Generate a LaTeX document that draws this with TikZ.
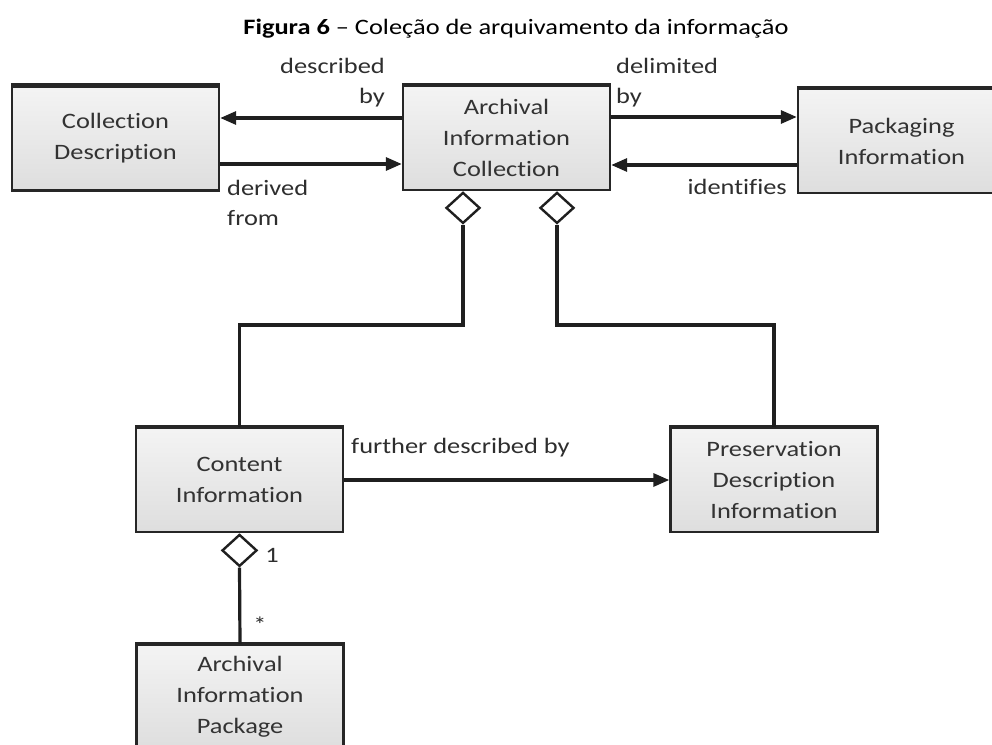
\documentclass[tikz,border=0pt]{standalone}
\usepackage{fontspec}
\setmainfont{Carlito}[FakeStretch=1.2, Ligatures={NoCommon}]
\usetikzlibrary{shapes.geometric,arrows.meta}

\begin{document}
\begin{tikzpicture}[x=1pt,y=-1pt,
  box/.style={draw=black!85, line width=2.4pt, top color=gray!9, bottom color=gray!26,
    minimum width=207pt, minimum height=104pt, inner sep=0pt, align=center,
    text=black!80, font=\fontsize{22}{31}\selectfont},
  lbl/.style={text=black!82, font=\fontsize{22}{30}\selectfont, inner sep=0pt},
  link/.style={line width=3.2pt, draw=black!88},
  arr/.style={link, -{Triangle[length=16pt,width=13pt]}},
  agg/.style={diamond, draw=black!88, line width=2.4pt, fill=white,
    minimum width=34pt, minimum height=31pt, inner sep=0pt},
]
\clip (0,0) rectangle (992,744);

% title
\node[font=\fontsize{22}{26}\selectfont] (title) at (516,29)
  {\textbf{Figura 6} – Coleção de arquivamento da informação};

% classes
\node[box] (cd)  at (115.5,138.5) {Collection\\Description};
\node[box] (aic) at (506.5,138)   {Archival\\Information\\Collection};
\node[box] (pi)  at (901.5,141)   {Packaging\\Information};
\node[box] (ci)  at (239.5,480)   {Content\\Information};
\node[box] (pdi) at (774,480)     {Preservation\\Description\\Information};
\node[box] (aip) at (240,697)     {Archival\\Information\\Package};
\foreach \n in {cd,aic,pi,ci,pdi,aip}
  \draw[line width=3.8pt, black!85] (\n.north west) -- (\n.north east);

% associations between the top row
\draw[arr] (aic.west |- 0,118) -- (cd.east |- 0,118);
\draw[arr] (cd.east |- 0,164) -- (aic.west |- 0,164);
\draw[arr] (aic.east |- 0,117) -- (pi.west |- 0,117);
\draw[arr] (pi.west |- 0,165) -- (aic.east |- 0,165);
\draw[arr] (ci.east) -- (pdi.west);

% aggregation diamonds
\node[agg, anchor=north] (d1) at (aic.south -| 463,0) {};
\node[agg, anchor=north] (d2) at (aic.south -| 557,0) {};
\node[agg, anchor=north, minimum width=35pt, minimum height=32pt] (d3) at (ci.south) {};

\coordinate (bend) at (0,325);
\draw[link] (d1.south) -- (d1.south |- bend) -| (ci.north);
\draw[link] (d2.south) -- (d2.south |- bend) -| (pdi.north);
\draw[link] (d3.south) -- (aip.north);

% labels
\node[lbl, align=right, anchor=east] (ldesc) at (385,83) {described\\by};
\node[lbl, align=left, anchor=west] (ldelim) at (616,83) {delimited\\by};
\node[lbl, align=left, anchor=west] (lderiv) at (227,203) {derived\\from};
\node[lbl, anchor=east] (lident) at (787,187) {identifies};
\node[lbl, anchor=west] (lfurther) at (351,448) {further described by};
\node[lbl] (lone) at (272,555) {1};
\node[lbl] (lmany) at (260,625) {*};
\end{tikzpicture}
\end{document}
